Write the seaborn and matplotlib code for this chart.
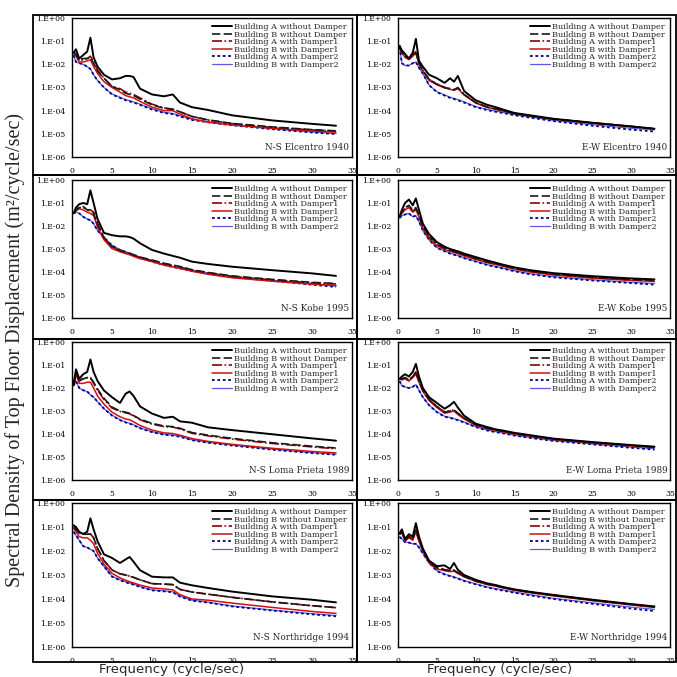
import numpy as np
import pandas as pd
import matplotlib
matplotlib.use("Agg")
import matplotlib.pyplot as plt
from matplotlib.patches import Rectangle
from matplotlib.ticker import FixedLocator, FixedFormatter
import seaborn as sns

# ---------------- data (log10 of spectral density) ----------------
FREQ = [0.2, 0.5, 0.9, 1.4, 1.9, 2.3, 2.7, 3.2, 4, 5, 6, 6.7, 7.2, 7.7, 8.5,
        10, 11.5, 12.6, 13.5, 15, 17, 20, 25, 30, 33]

SERIES = ["A_wo", "B_wo", "A_D1", "B_D1", "A_D2", "B_D2"]
LABELS = ["Building A without Damper", "Building B without Damper",
          "Building A with Damper1", "Building B with Damper1",
          "Building A with Damper2", "Building B with Damper2"]

ns_elcentro = {
    "A_wo": [-1.5, -1.35, -1.75, -1.6, -1.45, -0.85, -1.7, -2.1, -2.45, -2.65, -2.6, -2.5, -2.5, -2.55, -3.05, -3.3, -3.38, -3.3, -3.65, -3.85, -3.97, -4.2, -4.42, -4.57, -4.65],
    "B_wo": [-1.45, -1.6, -1.8, -1.75, -1.75, -1.7, -1.95, -2.3, -2.6, -2.95, -3.1, -3.25, -3.3, -3.35, -3.5, -3.75, -3.9, -3.95, -4.05, -4.25, -4.4, -4.55, -4.7, -4.82, -4.87],
    "A_D1": [-1.5, -1.55, -1.85, -1.8, -1.75, -1.65, -1.9, -2.25, -2.6, -2.95, -3.05, -3.2, -3.25, -3.3, -3.45, -3.72, -3.88, -3.93, -4.05, -4.25, -4.4, -4.56, -4.72, -4.83, -4.88],
    "B_D1": [-1.5, -1.65, -1.9, -1.9, -1.85, -1.8, -2.1, -2.4, -2.75, -3.0, -3.2, -3.35, -3.4, -3.45, -3.6, -3.85, -4.0, -4.0, -4.15, -4.35, -4.5, -4.62, -4.76, -4.88, -4.93],
    "A_D2": [-1.6, -1.9, -1.95, -2.0, -2.1, -2.2, -2.45, -2.7, -3.0, -3.3, -3.45, -3.55, -3.6, -3.65, -3.75, -3.95, -4.1, -4.15, -4.25, -4.4, -4.5, -4.63, -4.8, -4.94, -5.01],
    "B_D2": [-1.6, -1.9, -1.95, -2.0, -2.1, -2.2, -2.45, -2.7, -3.0, -3.28, -3.42, -3.52, -3.57, -3.62, -3.72, -3.92, -4.07, -4.12, -4.22, -4.37, -4.48, -4.61, -4.78, -4.92, -4.99],
}
ew_elcentro = {
    "A_wo": [-1.2, -1.4, -1.55, -1.75, -1.5, -0.9, -1.85, -2.1, -2.45, -2.6, -2.8, -2.6, -2.75, -2.5, -3.15, -3.55, -3.75, -3.85, -3.95, -4.1, -4.2, -4.35, -4.52, -4.68, -4.78],
    "B_wo": [-1.2, -1.5, -1.65, -1.75, -1.6, -1.5, -1.95, -2.25, -2.65, -2.85, -3.0, -3.05, -3.1, -3.02, -3.3, -3.65, -3.85, -3.93, -4.0, -4.12, -4.22, -4.36, -4.53, -4.68, -4.78],
    "A_D1": [-1.2, -1.5, -1.65, -1.75, -1.6, -1.45, -1.95, -2.25, -2.65, -2.85, -3.0, -3.05, -3.1, -3.0, -3.3, -3.65, -3.85, -3.93, -4.0, -4.12, -4.22, -4.36, -4.53, -4.68, -4.78],
    "B_D1": [-1.2, -1.5, -1.7, -1.8, -1.65, -1.5, -2.0, -2.3, -2.7, -2.88, -3.02, -3.08, -3.12, -3.05, -3.32, -3.67, -3.86, -3.94, -4.01, -4.13, -4.23, -4.37, -4.54, -4.69, -4.79],
    "A_D2": [-1.25, -1.95, -2.05, -2.05, -1.95, -1.9, -2.15, -2.4, -2.9, -3.2, -3.35, -3.45, -3.5, -3.55, -3.65, -3.85, -3.98, -4.05, -4.1, -4.2, -4.3, -4.45, -4.65, -4.82, -4.9],
    "B_D2": [-1.25, -1.95, -2.05, -2.05, -1.95, -1.9, -2.15, -2.4, -2.9, -3.18, -3.32, -3.42, -3.47, -3.52, -3.62, -3.82, -3.95, -4.02, -4.07, -4.17, -4.27, -4.42, -4.6, -4.76, -4.83],
}
ns_kobe = {
    "A_wo": [-1.45, -1.2, -1.05, -1.0, -1.05, -0.45, -1.0, -1.7, -2.3, -2.4, -2.45, -2.45, -2.48, -2.55, -2.75, -3.04, -3.2, -3.3, -3.38, -3.55, -3.65, -3.77, -3.92, -4.06, -4.17],
    "B_wo": [-1.45, -1.3, -1.2, -1.15, -1.3, -1.35, -1.45, -1.95, -2.5, -2.9, -3.05, -3.12, -3.18, -3.25, -3.35, -3.48, -3.62, -3.7, -3.76, -3.9, -4.02, -4.17, -4.32, -4.45, -4.5],
    "A_D1": [-1.45, -1.3, -1.2, -1.2, -1.3, -1.3, -1.4, -1.9, -2.5, -2.92, -3.07, -3.14, -3.2, -3.27, -3.37, -3.5, -3.64, -3.72, -3.78, -3.92, -4.04, -4.19, -4.34, -4.47, -4.52],
    "B_D1": [-1.45, -1.35, -1.25, -1.3, -1.4, -1.45, -1.55, -2.05, -2.6, -2.98, -3.12, -3.2, -3.25, -3.32, -3.42, -3.55, -3.7, -3.78, -3.84, -3.97, -4.1, -4.25, -4.4, -4.53, -4.58],
    "A_D2": [-1.45, -1.4, -1.45, -1.6, -1.7, -1.75, -1.9, -2.2, -2.5, -2.85, -3.05, -3.15, -3.2, -3.27, -3.38, -3.55, -3.7, -3.78, -3.85, -3.95, -4.07, -4.22, -4.38, -4.55, -4.65],
    "B_D2": [-1.45, -1.4, -1.45, -1.6, -1.7, -1.75, -1.9, -2.2, -2.5, -2.83, -3.03, -3.13, -3.18, -3.25, -3.36, -3.53, -3.68, -3.76, -3.83, -3.93, -4.05, -4.2, -4.36, -4.52, -4.62],
}
ew_kobe = {
    "A_wo": [-1.6, -1.3, -1.0, -0.85, -1.1, -0.8, -1.3, -1.9, -2.35, -2.7, -2.9, -3.0, -3.05, -3.1, -3.2, -3.35, -3.5, -3.6, -3.68, -3.8, -3.92, -4.05, -4.18, -4.28, -4.32],
    "B_wo": [-1.6, -1.4, -1.2, -1.1, -1.3, -1.2, -1.5, -2.0, -2.45, -2.75, -2.95, -3.05, -3.1, -3.15, -3.25, -3.4, -3.55, -3.63, -3.7, -3.83, -3.95, -4.08, -4.22, -4.32, -4.36],
    "A_D1": [-1.6, -1.4, -1.25, -1.15, -1.35, -1.25, -1.55, -2.05, -2.5, -2.8, -2.98, -3.08, -3.12, -3.17, -3.27, -3.42, -3.57, -3.65, -3.72, -3.85, -3.97, -4.1, -4.24, -4.34, -4.38],
    "B_D1": [-1.6, -1.45, -1.3, -1.2, -1.4, -1.3, -1.6, -2.1, -2.55, -2.85, -3.02, -3.1, -3.15, -3.2, -3.3, -3.45, -3.6, -3.68, -3.75, -3.88, -4.0, -4.13, -4.27, -4.37, -4.41],
    "A_D2": [-1.65, -1.55, -1.5, -1.45, -1.6, -1.55, -1.8, -2.2, -2.6, -2.95, -3.1, -3.2, -3.25, -3.3, -3.4, -3.55, -3.7, -3.78, -3.85, -3.97, -4.1, -4.23, -4.37, -4.48, -4.55],
    "B_D2": [-1.65, -1.55, -1.5, -1.45, -1.6, -1.55, -1.8, -2.2, -2.6, -2.93, -3.08, -3.18, -3.23, -3.28, -3.38, -3.53, -3.68, -3.76, -3.83, -3.95, -4.07, -4.2, -4.34, -4.45, -4.5],
}
ns_loma = {
    "A_wo": [-1.83, -1.19, -1.6, -1.4, -1.3, -0.76, -1.3, -1.7, -2.11, -2.4, -2.65, -2.25, -2.15, -2.35, -2.8, -3.11, -3.3, -3.25, -3.45, -3.51, -3.71, -3.83, -4.01, -4.19, -4.29],
    "B_wo": [-1.9, -1.3, -1.65, -1.6, -1.55, -1.55, -1.75, -2.05, -2.45, -2.83, -3.0, -3.05, -3.1, -3.2, -3.35, -3.54, -3.65, -3.68, -3.75, -3.94, -4.05, -4.19, -4.38, -4.53, -4.61],
    "A_D1": [-1.9, -1.35, -1.7, -1.6, -1.55, -1.55, -1.8, -2.1, -2.5, -2.87, -3.02, -3.08, -3.12, -3.22, -3.38, -3.57, -3.68, -3.7, -3.78, -3.97, -4.08, -4.22, -4.41, -4.56, -4.64],
    "B_D1": [-1.9, -1.4, -1.8, -1.8, -1.75, -1.75, -2.0, -2.35, -2.7, -3.05, -3.25, -3.35, -3.38, -3.47, -3.63, -3.83, -3.95, -3.98, -4.05, -4.2, -4.32, -4.45, -4.62, -4.76, -4.82],
    "A_D2": [-1.9, -1.7, -2.0, -2.1, -2.15, -2.3, -2.4, -2.6, -2.9, -3.2, -3.4, -3.5, -3.55, -3.62, -3.75, -3.92, -4.03, -4.07, -4.12, -4.27, -4.38, -4.5, -4.68, -4.83, -4.9],
    "B_D2": [-1.9, -1.7, -2.0, -2.1, -2.15, -2.3, -2.4, -2.6, -2.9, -3.18, -3.38, -3.48, -3.53, -3.6, -3.73, -3.9, -4.01, -4.05, -4.1, -4.25, -4.36, -4.48, -4.66, -4.81, -4.88],
}
ew_loma = {
    "A_wo": [-1.6, -1.5, -1.4, -1.5, -1.3, -0.95, -1.5, -2.0, -2.4, -2.65, -2.9, -2.75, -2.6, -2.85, -3.2, -3.55, -3.7, -3.8, -3.85, -3.95, -4.05, -4.2, -4.35, -4.48, -4.55],
    "B_wo": [-1.6, -1.6, -1.55, -1.65, -1.5, -1.3, -1.7, -2.1, -2.5, -2.8, -3.05, -3.0, -2.95, -3.1, -3.3, -3.6, -3.75, -3.83, -3.88, -3.98, -4.08, -4.22, -4.37, -4.5, -4.57],
    "A_D1": [-1.6, -1.6, -1.55, -1.65, -1.5, -1.3, -1.7, -2.1, -2.5, -2.8, -3.05, -3.0, -2.95, -3.1, -3.3, -3.6, -3.75, -3.83, -3.88, -3.98, -4.08, -4.22, -4.37, -4.5, -4.57],
    "B_D1": [-1.6, -1.65, -1.6, -1.7, -1.55, -1.4, -1.75, -2.15, -2.55, -2.85, -3.1, -3.05, -3.0, -3.15, -3.35, -3.62, -3.77, -3.85, -3.9, -4.0, -4.1, -4.24, -4.39, -4.52, -4.59],
    "A_D2": [-1.7, -1.9, -1.95, -2.0, -1.95, -1.85, -2.1, -2.4, -2.75, -3.05, -3.25, -3.3, -3.35, -3.4, -3.5, -3.7, -3.85, -3.92, -3.97, -4.07, -4.17, -4.3, -4.45, -4.6, -4.68],
    "B_D2": [-1.7, -1.9, -1.95, -2.0, -1.95, -1.85, -2.1, -2.4, -2.75, -3.03, -3.23, -3.28, -3.33, -3.38, -3.48, -3.68, -3.83, -3.9, -3.95, -4.05, -4.15, -4.28, -4.43, -4.57, -4.64],
}
ns_northridge = {
    "A_wo": [-0.93, -1.0, -1.2, -1.29, -1.2, -0.64, -1.1, -1.6, -2.14, -2.29, -2.5, -2.35, -2.25, -2.45, -2.8, -3.07, -3.1, -3.1, -3.32, -3.43, -3.54, -3.69, -3.89, -4.03, -4.14],
    "B_wo": [-1.0, -1.1, -1.25, -1.3, -1.3, -1.3, -1.45, -1.9, -2.4, -2.79, -2.95, -3.0, -3.05, -3.1, -3.2, -3.36, -3.38, -3.4, -3.6, -3.71, -3.8, -3.93, -4.12, -4.28, -4.36],
    "A_D1": [-1.0, -1.1, -1.25, -1.3, -1.3, -1.29, -1.45, -1.9, -2.4, -2.79, -2.95, -3.0, -3.05, -3.1, -3.2, -3.36, -3.38, -3.4, -3.6, -3.71, -3.8, -3.93, -4.12, -4.28, -4.36],
    "B_D1": [-1.07, -1.2, -1.4, -1.45, -1.45, -1.55, -1.7, -2.1, -2.55, -2.93, -3.12, -3.22, -3.28, -3.33, -3.42, -3.54, -3.58, -3.62, -3.82, -4.0, -4.05, -4.17, -4.35, -4.52, -4.6],
    "A_D2": [-1.2, -1.35, -1.55, -1.8, -1.85, -1.93, -2.0, -2.3, -2.64, -3.07, -3.22, -3.3, -3.36, -3.4, -3.5, -3.64, -3.68, -3.72, -3.9, -4.07, -4.15, -4.31, -4.48, -4.64, -4.72],
    "B_D2": [-1.2, -1.35, -1.55, -1.8, -1.85, -1.93, -2.0, -2.3, -2.64, -3.05, -3.2, -3.28, -3.34, -3.38, -3.48, -3.62, -3.66, -3.7, -3.88, -4.05, -4.13, -4.29, -4.46, -4.61, -4.69],
}
ew_northridge = {
    "A_wo": [-1.27, -1.1, -1.5, -1.3, -1.4, -0.84, -1.4, -1.9, -2.4, -2.63, -2.6, -2.75, -2.5, -2.78, -3.0, -3.2, -3.35, -3.42, -3.5, -3.6, -3.7, -3.83, -4.03, -4.21, -4.31],
    "B_wo": [-1.3, -1.2, -1.55, -1.4, -1.5, -1.1, -1.55, -1.95, -2.45, -2.7, -2.78, -2.83, -2.8, -2.9, -3.05, -3.25, -3.38, -3.45, -3.52, -3.62, -3.72, -3.85, -4.05, -4.23, -4.33],
    "A_D1": [-1.3, -1.2, -1.55, -1.4, -1.5, -1.06, -1.55, -1.95, -2.45, -2.7, -2.78, -2.82, -2.8, -2.9, -3.05, -3.24, -3.37, -3.44, -3.51, -3.61, -3.71, -3.84, -4.04, -4.22, -4.32],
    "B_D1": [-1.3, -1.25, -1.6, -1.45, -1.55, -1.2, -1.6, -2.0, -2.5, -2.75, -2.82, -2.86, -2.84, -2.94, -3.08, -3.27, -3.4, -3.47, -3.54, -3.64, -3.74, -3.87, -4.07, -4.25, -4.35],
    "A_D2": [-1.41, -1.5, -1.63, -1.65, -1.7, -1.7, -1.85, -2.1, -2.49, -2.84, -2.98, -3.05, -3.1, -3.15, -3.25, -3.39, -3.52, -3.6, -3.65, -3.74, -3.85, -4.0, -4.2, -4.4, -4.5],
    "B_D2": [-1.41, -1.5, -1.63, -1.65, -1.7, -1.7, -1.85, -2.1, -2.49, -2.82, -2.96, -3.03, -3.08, -3.13, -3.23, -3.37, -3.5, -3.57, -3.62, -3.71, -3.82, -3.97, -4.16, -4.34, -4.43],
}

PANELS = [
    (ns_elcentro, "N-S Elcentro 1940"), (ew_elcentro, "E-W Elcentro 1940"),
    (ns_kobe, "N-S Kobe 1995"), (ew_kobe, "E-W Kobe 1995"),
    (ns_loma, "N-S Loma Prieta 1989"), (ew_loma, "E-W Loma Prieta 1989"),
    (ns_northridge, "N-S Northridge 1994"), (ew_northridge, "E-W Northridge 1994"),
]

Y_TICKS = [1e0, 1e-1, 1e-2, 1e-3, 1e-4, 1e-5, 1e-6]
Y_TICK_LABELS = ["1.E+00", "1.E-01", "1.E-02", "1.E-03", "1.E-04", "1.E-05", "1.E-06"]
X_TICKS = [0, 5, 10, 15, 20, 25, 30, 35]

# ---------------- styling ----------------
sns.set_style("ticks")
plt.rcParams["font.family"] = ["DejaVu Serif"]

STYLE = {
    "A_wo": dict(color="black", lw=1.4, ls="-", z=6),
    "B_wo": dict(color="#1a1a1a", lw=1.2, ls=(0, (5, 2)), z=5),
    "A_D1": dict(color="#8b0000", lw=1.2, ls=(0, (6, 1.5, 1, 1.5)), z=4),
    "B_D1": dict(color="#d01010", lw=1.1, ls="-", z=3),
    "A_D2": dict(color="#000080", lw=1.3, ls=(0, (1.5, 1.5)), z=2),
    "B_D2": dict(color="#5a5ae6", lw=0.9, ls="-", z=1),
}

W = H = 677
fig = plt.figure(figsize=(6.77, 6.77), dpi=100)

cols = [(72, 352), (398, 670)]
rows = [(18, 157), (180, 318), (342, 480), (503, 647)]
frame_x = [(33, 357), (357, 676)]
frame_y = [(15, 175), (175, 339), (339, 500), (500, 662)]

for r in range(4):
    for c in range(2):
        fx0, fx1 = frame_x[c]
        fy0, fy1 = frame_y[r]
        fig.add_artist(Rectangle((fx0 / W, 1 - fy1 / H), (fx1 - fx0) / W, (fy1 - fy0) / H,
                                 fill=False, lw=1.3, ec="black", transform=fig.transFigure))

for i, (data, title) in enumerate(PANELS):
    r, c = divmod(i, 2)
    x0, x1 = cols[c]
    yt, yb = rows[r]
    ax = fig.add_axes([x0 / W, 1 - yb / H, (x1 - x0) / W, (yb - yt) / H])
    for key, lab in zip(SERIES, LABELS):
        st = STYLE[key]
        df = pd.DataFrame({"f": FREQ, "psd": np.power(10.0, data[key])})
        sns.lineplot(data=df, x="f", y="psd", ax=ax, color=st["color"], lw=st["lw"],
                     linestyle=st["ls"], label=lab, zorder=st["z"], estimator=None)
    ax.set_yscale("log")
    ax.set_ylim(1e-6, 1e0)
    ax.set_xlim(0, 35)
    ax.yaxis.set_major_locator(FixedLocator(Y_TICKS))
    ax.yaxis.set_major_formatter(FixedFormatter(Y_TICK_LABELS))
    ax.yaxis.set_minor_locator(FixedLocator([]))
    ax.set_xticks(X_TICKS)
    ax.set_xticklabels([str(t) for t in X_TICKS])
    ax.tick_params(axis="both", which="major", labelsize=5.5, length=0, colors="black")
    ax.tick_params(axis="x", pad=7)
    ax.tick_params(axis="y", pad=5)
    ax.set_xlabel("")
    ax.set_ylabel("")
    for sp in ax.spines.values():
        sp.set_visible(True)
        sp.set_color("black")
        sp.set_linewidth(1.0)
    ax.legend(loc="upper right", frameon=False, fontsize=5.9, handlelength=2.4,
              labelspacing=-0.05, borderaxespad=0.4, handletextpad=0.3, borderpad=0.2)
    ax.text(0.99, 0.035, title, transform=ax.transAxes, ha="right", va="bottom",
            fontsize=6.4)

fig.text(15 / W, 1 - 350 / H, "Spectral Density of Top Floor Displacement (m²/cycle/sec)",
         rotation=90, ha="center", va="center", fontsize=14.5, family=["Liberation Serif"])
for xc in (172, 500):
    fig.text(xc / W, 1 - 670 / H, "Frequency (cycle/sec)", ha="center", va="center",
             fontsize=9.5, family=["DejaVu Sans"])

fig.savefig("out.png", dpi=100)
